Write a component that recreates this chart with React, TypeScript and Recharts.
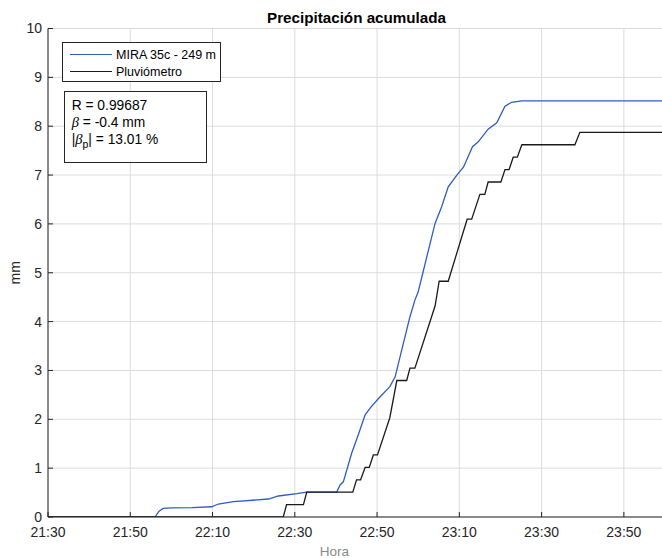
import React from 'react';
import { LineChart, Line, XAxis, YAxis, CartesianGrid, Legend, Label } from 'recharts';

const FONT = '"Liberation Sans", Arial, Helvetica, sans-serif';
const AXIS = '#262626';

// x in minutes since 21:30
const xTickMinutes = [0, 20, 40, 60, 80, 100, 120, 140];
const xTickLabels = ['21:30', '21:50', '22:10', '22:30', '22:50', '23:10', '23:30', '23:50'];
const yTicks = [0, 1, 2, 3, 4, 5, 6, 7, 8, 9, 10];

const miraT = [0, 26.0, 27.0, 28.0, 30, 35, 39.8, 41.4, 45.1, 53.6, 56.0, 60.5, 62.9, 70.2, 71.0, 71.8, 73.8, 75.5, 77.1, 78.5, 80.3, 83.1, 84.4, 86.0, 88.0, 89.2, 90.0, 91.2, 92.1, 94.1, 95.7, 97.3, 99.4, 101.0, 103.2, 104.6, 107.0, 109.1, 111.1, 112.7, 115.2, 150];
const miraV = [0, 0, 0.12, 0.175, 0.185, 0.19, 0.21, 0.266, 0.313, 0.368, 0.43, 0.477, 0.51, 0.51, 0.655, 0.72, 1.30, 1.70, 2.09, 2.25, 2.42, 2.67, 2.87, 3.42, 4.10, 4.44, 4.61, 5.02, 5.33, 6.01, 6.35, 6.76, 7.00, 7.16, 7.58, 7.68, 7.94, 8.07, 8.41, 8.49, 8.52, 8.52];

const pluvioT = [0, 57.2, 58.0, 62.1, 62.9, 74.1, 75.0, 76.0, 77.1, 78.1, 79.1, 80.1, 83.1, 84.8, 87.2, 88.0, 89.2, 94.1, 95.1, 97.3, 101.9, 103.0, 105.0, 106.2, 107.0, 110.1, 111.1, 112.1, 113.1, 114.1, 115.2, 128.1, 129.3, 150];
const pluvioV = [0, 0, 0.254, 0.254, 0.508, 0.508, 0.762, 0.762, 1.016, 1.016, 1.27, 1.27, 2.032, 2.794, 2.794, 3.048, 3.048, 4.318, 4.826, 4.826, 6.096, 6.096, 6.604, 6.604, 6.858, 6.858, 7.112, 7.112, 7.366, 7.366, 7.62, 7.62, 7.874, 7.874];

const miraData = miraT.map((t, i) => ({ t, v: miraV[i] }));
const pluvioData = pluvioT.map((t, i) => ({ t, v: pluvioV[i] }));

const fmtX = (m: number) => {
  const i = xTickMinutes.indexOf(m);
  return i >= 0 ? xTickLabels[i] : '';
};

const LegendBox = (props: any) => {
  const payload = props.payload || [];
  return (
    <div style={{ position: 'relative', width: 159, height: 40, boxSizing: 'border-box', border: `1px solid ${AXIS}`, background: '#fff', fontFamily: FONT, fontSize: 12.5, color: '#000' }}>
      {payload.map((p: any, i: number) => (
        <div key={i} style={{ position: 'absolute', left: 0, top: 3 + i * 17, height: 17, display: 'flex', alignItems: 'center', whiteSpace: 'nowrap' }}>
          <svg width={50} height={17} style={{ display: 'block' }}>
            <line x1={7} x2={49} y1={8.5} y2={8.5} stroke={p.color} strokeWidth={1.2} />
          </svg>
          <span style={{ marginLeft: 3 }}>{p.value}</span>
        </div>
      ))}
    </div>
  );
};

const YLabel = (props: any) => {
  const vb = props.viewBox || { x: 0, y: 0, width: 0, height: 0 };
  const cx = vb.x + 15;
  const cy = vb.y + vb.height / 2;
  return (
    <text x={cx} y={cy} transform={`rotate(-90 ${cx} ${cy})`} textAnchor="middle" dominantBaseline="central" fontFamily={FONT} fontSize={14} fill={AXIS}>
      mm
    </text>
  );
};

export default function App() {
  return (
    <div style={{ position: 'absolute', left: 0, top: 0, width: 662, height: 558, overflow: 'hidden', background: '#fff' }}>
      <div style={{ position: 'absolute', left: 48, top: 9, width: 617, textAlign: 'center', fontFamily: FONT, fontWeight: 'bold', fontSize: 15.2, lineHeight: 'normal', color: '#000', whiteSpace: 'nowrap' }}>
        Precipitación acumulada
      </div>
      <div style={{ position: 'absolute', left: 0, top: 0 }}>
        <LineChart width={670} height={558} margin={{ top: 28.5, right: 5, bottom: 0, left: 0 }}>
          <CartesianGrid xAxisId="b" yAxisId="l" stroke="#dcdcdc" strokeWidth={1} />
          <XAxis
            xAxisId="b"
            dataKey="t"
            type="number"
            domain={[0, 150]}
            ticks={xTickMinutes}
            tickFormatter={fmtX}
            allowDataOverflow
            height={41}
            tickSize={-5}
            tickMargin={15}
            stroke={AXIS}
            tick={{ fill: AXIS, fontSize: 14, fontFamily: FONT }}
          >
            <Label value="Hora" position="insideBottom" offset={2} dx={-22} fill="#8a8a8a" fontSize={13.5} fontFamily={FONT} />
          </XAxis>
          <XAxis xAxisId="t" orientation="top" dataKey="t" type="number" domain={[0, 150]} ticks={xTickMinutes} height={0} tickSize={-5} tick={false} stroke={AXIS} allowDataOverflow />
          <YAxis
            yAxisId="l"
            type="number"
            domain={[0, 10]}
            ticks={yTicks}
            width={48}
            tickSize={-5}
            tickMargin={11}
            stroke={AXIS}
            allowDataOverflow
            tick={{ fill: AXIS, fontSize: 14, fontFamily: FONT }}
          >
            <Label content={<YLabel />} />
          </YAxis>
          <YAxis yAxisId="r" orientation="right" type="number" domain={[0, 10]} ticks={yTicks} width={0} tickSize={-5} tick={false} stroke={AXIS} allowDataOverflow />
          <Legend
            layout="vertical"
            align="center"
            verticalAlign="middle"
            content={<LegendBox />}
            wrapperStyle={{ position: 'absolute', left: 62, top: 42, width: 159, height: 40 }}
          />
          <Line xAxisId="b" yAxisId="l" data={miraData} dataKey="v" name="MIRA 35c - 249 m" stroke="#2f5bc4" strokeWidth={1.3} dot={false} isAnimationActive={false} type="linear" />
          <Line xAxisId="b" yAxisId="l" data={pluvioData} dataKey="v" name="Pluviómetro" stroke="#1a1a1a" strokeWidth={1.3} dot={false} isAnimationActive={false} type="linear" />
        </LineChart>
      </div>
      <div style={{ position: 'absolute', left: 64, top: 91, width: 143, height: 72, boxSizing: 'border-box', border: `1px solid ${AXIS}`, background: '#fff', fontFamily: FONT, fontSize: 13.8, color: '#000', paddingLeft: 6.7, paddingTop: 4.6, lineHeight: '17.2px', whiteSpace: 'nowrap' }}>
        <div>R = 0.99687</div>
        <div><span style={{ fontFamily: '"Liberation Serif", "DejaVu Serif", serif', fontStyle: 'italic', fontSize: 14.5 }}>β</span> = -0.4 mm</div>
        <div>|<span style={{ fontFamily: '"Liberation Serif", "DejaVu Serif", serif', fontStyle: 'italic', fontSize: 14.5 }}>β</span><sub style={{ fontSize: 10.5, lineHeight: 0, verticalAlign: '-4px' }}>p</sub>| = 13.01 %</div>
      </div>
    </div>
  );
}
